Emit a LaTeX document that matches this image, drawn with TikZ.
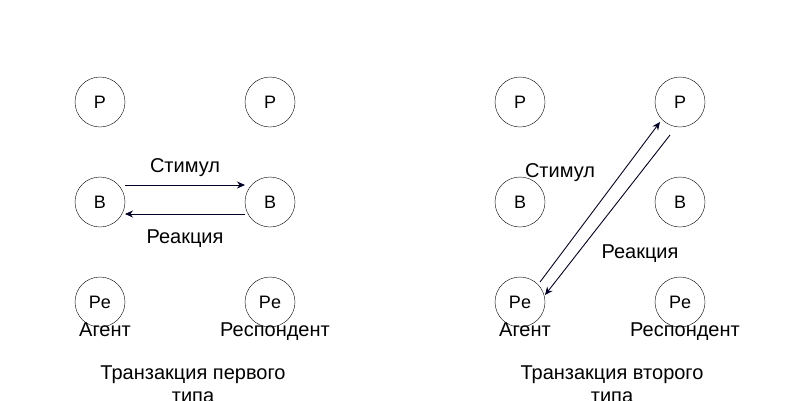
\documentclass[tikz,border=0pt]{standalone}
\usepackage{fontspec}
\setmainfont{Liberation Sans}
\usetikzlibrary{arrows.meta}
\begin{document}
\begin{tikzpicture}[
                x=1pt, y=-1pt,
                role/.style={draw, circle, minimum size=50pt, inner sep=0pt, font=\fontsize{18}{22}\selectfont},
                txt/.style={font=\fontsize{20}{23}\selectfont, inner sep=0pt, text height=14pt, text depth=4pt},
                msg/.style={-{Stealth[length=8pt,width=7pt]}, line width=0.9pt, color=black!85!blue},
            ]
                \useasboundingbox (0, 0) rectangle (800, 400);
                % first type
                \node[role] (p1) at (100, 102) {P};
                \node[role] (p2) at (270, 102) {P};
                \node[role] (b1) at (100, 202) {B};
                \node[role] (b2) at (270, 202) {B};
                \node[role] (pe1) at (100, 302) {Pe};
                \node[role] (pe2) at (270, 302) {Pe};
                \node[txt] (agent1) at (105, 331) {Агент};
                \node[txt] (resp1) at (275, 331) {Респондент};
                \coordinate (s1a) at (125, 185);
                \coordinate (s1b) at (245, 185);
                \coordinate (r1a) at (245, 214);
                \coordinate (r1b) at (125, 214);
                \draw[msg] (s1a) -- (s1b);
                \draw[msg] (r1a) -- (r1b);
                \node[txt] (stim1) at (185, 167) {Стимул};
                \node[txt] (reac1) at (185, 238) {Реакция};
                \node[txt, align=center, text height=, text depth=] (title1) at (193, 384) {Транзакция первого\\типа};
                % second type
                \node[role] (p3) at (520, 102) {P};
                \node[role] (p4) at (680, 102) {P};
                \node[role] (b3) at (520, 202) {B};
                \node[role] (b4) at (680, 202) {B};
                \node[role] (pe3) at (520, 302) {Pe};
                \node[role] (pe4) at (680, 302) {Pe};
                \node[txt] (agent2) at (525, 331) {Агент};
                \node[txt] (resp2) at (685, 331) {Респондент};
                \coordinate (s2a) at (540, 282);
                \coordinate (s2b) at (660, 122);
                \coordinate (r2a) at (670, 135);
                \coordinate (r2b) at (545, 295);
                \draw[msg] (s2a) -- (s2b);
                \draw[msg] (r2a) -- (r2b);
                \node[txt] (stim2) at (560, 172) {Стимул};
                \node[txt] (reac2) at (640, 253) {Реакция};
                \node[txt, align=center, text height=, text depth=] (title2) at (612, 384) {Транзакция второго\\типа};
            \end{tikzpicture}
\end{document}
